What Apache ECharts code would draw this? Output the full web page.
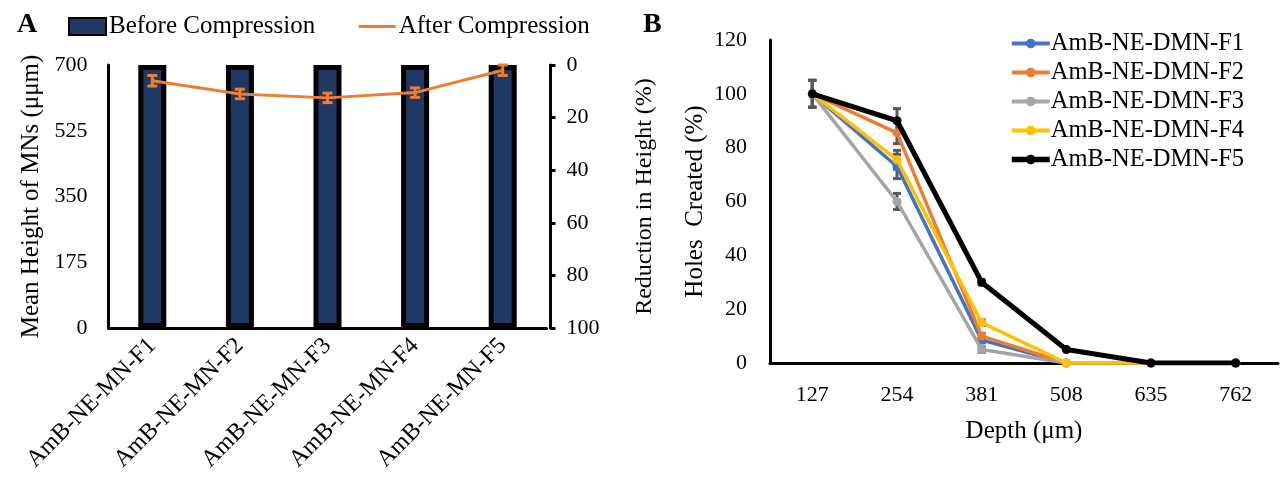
<!DOCTYPE html>
<html>
<head>
<meta charset="utf-8">
<script src="https://cdn.jsdelivr.net/npm/echarts@6.0.0/dist/echarts.min.js"></script>
<style>
html,body{margin:0;padding:0;background:#ffffff;}
#chart{width:1287px;height:490px;}
</style>
</head>
<body>
<div id="chart"></div>
<script>
// ---------- Panel A data ----------
const mnCategories = ['AmB-NE-MN-F1', 'AmB-NE-MN-F2', 'AmB-NE-MN-F3', 'AmB-NE-MN-F4', 'AmB-NE-MN-F5'];
const beforeCompression = [700, 700, 700, 700, 700];          // Mean height (µm)
const afterCompression = [6, 11, 12.5, 10.5, 2];               // Reduction in height (%)
const afterCompressionErr = [2, 1.8, 1.8, 1.8, 2];
const heightAxis = { min: 0, max: 700, interval: 175 };
const reductionAxis = { min: 0, max: 100, interval: 20 };

// ---------- Panel B data ----------
const depthCategories = ['127', '254', '381', '508', '635', '762'];
const dmnNames = ['AmB-NE-DMN-F1', 'AmB-NE-DMN-F2', 'AmB-NE-DMN-F3', 'AmB-NE-DMN-F4', 'AmB-NE-DMN-F5'];
const dmnF1 = [100, 73, 8.5, 0, 0, 0];
const dmnF2 = [100, 85.5, 10, 0, 0, 0];
const dmnF3 = [100, 60, 5, 0, 0, 0];
const dmnF4 = [100, 75.5, 15, 0, 0, 0];
const dmnF5 = [100, 90, 30, 5, 0, 0];
const dmnF1Err = [5, 4.5, 1, 0, 0, 0];
const dmnF2Err = [5, 4, 1, 0, 0, 0];
const dmnF3Err = [5, 3, 1, 0, 0, 0];
const dmnF4Err = [5, 3.5, 1, 0, 0, 0];
const dmnF5Err = [5, 4.5, 1, 0, 0, 0];
const holesAxis = { min: 0, max: 120, interval: 20 };

const dmnValues = [dmnF1, dmnF2, dmnF3, dmnF4, dmnF5];
const dmnErrors = [dmnF1Err, dmnF2Err, dmnF3Err, dmnF4Err, dmnF5Err];
const dmnColors = ['#4472C4', '#ED7D31', '#A5A5A5', '#FFC000', '#000000'];
const dmnWidths = [3.5, 3.5, 3.5, 3.5, 5];

const FONT = 'Liberation Serif';

function errData(values, errs) {
  const out = [];
  values.forEach((v, i) => { if (errs[i] > 0) out.push([i, v - errs[i], v + errs[i]]); });
  return out;
}
function errRender(capHalf, color, width) {
  return function (params, api) {
    const x = api.value(0), lo = api.value(1), hi = api.value(2);
    const p1 = api.coord([x, hi]);
    const p2 = api.coord([x, lo]);
    const style = { stroke: color, lineWidth: width, fill: null };
    return {
      type: 'group',
      children: [
        { type: 'line', shape: { x1: p1[0], y1: p1[1], x2: p2[0], y2: p2[1] }, style: style },
        { type: 'line', shape: { x1: p1[0] - capHalf, y1: p1[1], x2: p1[0] + capHalf, y2: p1[1] }, style: style },
        { type: 'line', shape: { x1: p2[0] - capHalf, y1: p2[1], x2: p2[0] + capHalf, y2: p2[1] }, style: style }
      ]
    };
  };
}

const axisLine = { show: true, lineStyle: { color: '#000', width: 3 } };
const tickLabel = { fontFamily: FONT, fontSize: 22, color: '#000' };
const nameStyle = { fontFamily: FONT, fontSize: 25, color: '#000' };

const series = [
  {
    name: 'Before Compression', type: 'bar', xAxisIndex: 0, yAxisIndex: 0,
    data: beforeCompression, barWidth: 28,
    itemStyle: { color: '#203864', borderColor: '#000', borderWidth: 5 }, z: 2
  },
  {
    name: 'After Compression', type: 'line', xAxisIndex: 0, yAxisIndex: 1,
    data: afterCompression, symbol: 'none',
    lineStyle: { color: '#ED7D31', width: 3 }, itemStyle: { color: '#ED7D31' }, z: 3
  },
  {
    name: 'errA', type: 'custom', xAxisIndex: 0, yAxisIndex: 1,
    data: errData(afterCompression, afterCompressionErr),
    encode: { x: 0, y: [1, 2] },
    renderItem: errRender(5, '#ED7D31', 3), z: 4
  }
];

dmnNames.forEach((name, k) => {
  series.push({
    name: name + ' err', type: 'custom', xAxisIndex: 1, yAxisIndex: 2,
    data: errData(dmnValues[k], dmnErrors[k]),
    encode: { x: 0, y: [1, 2] },
    renderItem: errRender(4, '#595959', 3), z: 2
  });
});
dmnNames.forEach((name, k) => {
  series.push({
    name: name, type: 'line', xAxisIndex: 1, yAxisIndex: 2,
    data: dmnValues[k], symbol: 'circle', symbolSize: 9,
    lineStyle: { color: dmnColors[k], width: dmnWidths[k] },
    itemStyle: { color: dmnColors[k] }, z: 3 + k
  });
});

const option = {
  animation: false,
  backgroundColor: '#ffffff',
  title: [
    { text: 'A', left: 12, top: 6, textStyle: { fontFamily: FONT, fontSize: 28, fontWeight: 'bold', color: '#000' } },
    { text: 'B', left: 638, top: 6, textStyle: { fontFamily: FONT, fontSize: 28, fontWeight: 'bold', color: '#000' } }
  ],
  legend: [
    {
      data: [
        { name: 'Before Compression', icon: 'rect' },
        { name: 'After Compression', itemStyle: { opacity: 0 }, lineStyle: { width: 3, color: '#ED7D31' } }
      ],
      left: 63, top: 9, itemWidth: 37, itemHeight: 17, itemGap: 42,
      textStyle: { fontFamily: FONT, fontSize: 25, color: '#000', padding: [0, 0, 0, -2] }
    },
    {
      data: dmnNames.map((n, k) => ({ name: n, lineStyle: { width: dmnWidths[k] + 0.5, color: dmnColors[k] } })),
      orient: 'vertical', left: 1004, top: 26,
      itemWidth: 38, itemHeight: 12, itemGap: 4,
      textStyle: { fontFamily: FONT, fontSize: 24.5, color: '#000', lineHeight: 24, padding: [0, 0, 0, -4] }
    }
  ],
  grid: [
    { left: 108.5, top: 65, width: 438, height: 263, containLabel: false, outerBoundsMode: 'none' },
    { left: 770, top: 40, width: 508, height: 323, containLabel: false, outerBoundsMode: 'none' }
  ],
  xAxis: [
    {
      type: 'category', gridIndex: 0, data: mnCategories,
      axisLine: axisLine, axisTick: { show: false },
      axisLabel: { fontFamily: FONT, fontSize: 24, color: '#000', rotate: 45, margin: 14 },
      splitLine: { show: false }
    },
    {
      type: 'category', gridIndex: 1, data: depthCategories,
      axisLine: axisLine, axisTick: { show: false },
      axisLabel: Object.assign({}, tickLabel, { margin: 21 }),
      splitLine: { show: false },
      name: 'Depth (μm)', nameLocation: 'middle', nameGap: 56,
      nameTextStyle: nameStyle
    }
  ],
  yAxis: [
    {
      type: 'value', gridIndex: 0, position: 'left',
      min: heightAxis.min, max: heightAxis.max, interval: heightAxis.interval,
      axisLine: axisLine, axisTick: { show: false }, splitLine: { show: false },
      axisLabel: Object.assign({}, tickLabel, { margin: 21 }),
      name: 'Mean Height of MNs (μμm)', nameLocation: 'middle', nameGap: 65, nameRotate: 90,
      nameTextStyle: nameStyle
    },
    {
      type: 'value', gridIndex: 0, position: 'right', inverse: true, offset: 4,
      min: reductionAxis.min, max: reductionAxis.max, interval: reductionAxis.interval,
      axisLine: axisLine,
      axisTick: { show: true, inside: false, length: 5, lineStyle: { color: '#000', width: 3 } },
      splitLine: { show: false },
      axisLabel: Object.assign({}, tickLabel, { margin: 16 }),
      name: 'Reduction in Height (%)', nameLocation: 'middle', nameGap: 82, nameRotate: 90,
      nameTextStyle: Object.assign({}, nameStyle, { fontSize: 24 })
    },
    {
      type: 'value', gridIndex: 1, position: 'left',
      min: holesAxis.min, max: holesAxis.max, interval: holesAxis.interval,
      axisLine: axisLine, axisTick: { show: false }, splitLine: { show: false },
      axisLabel: Object.assign({}, tickLabel, { margin: 23 }),
      name: 'Holes  Created (%)', nameLocation: 'middle', nameGap: 62, nameRotate: 90,
      nameTextStyle: nameStyle
    }
  ],
  series: series
};

const chart = echarts.init(document.getElementById('chart'), null, { renderer: 'canvas' });
chart.setOption(option);
</script>
</body>
</html>
